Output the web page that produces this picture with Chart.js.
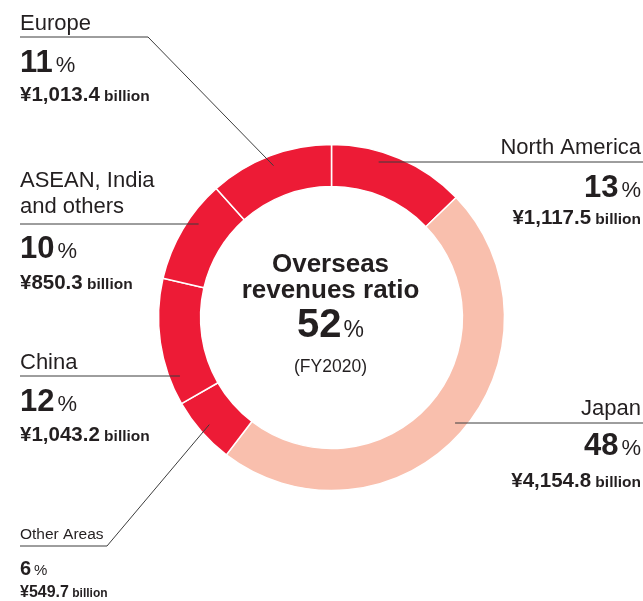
<!DOCTYPE html>
<html lang="en">
<head>
    <meta charset="UTF-8">
    <title>Overseas revenues ratio</title>
    <style>
        html, body { margin: 0; padding: 0; background: #fff; }
        .chart-container { position: relative; width: 643px; height: 601px; }
    </style>
</head>
<body>
    <div class="chart-container">
        <canvas class="revenue-chart"></canvas>
    </div>

    <script src="https://cdn.jsdelivr.net/npm/chart.js@4/dist/chart.umd.min.js"></script>
    <script>
        // Data (clockwise from 12 o'clock)
        const regions = ['North America', 'Japan', 'Other Areas', 'China', 'ASEAN, India and others', 'Europe'];
        const revenues = [1117.5, 4154.8, 549.7, 1043.2, 850.3, 1013.4];   // billion yen
        const shares = [13, 48, 6, 12, 10, 11];                               // %
        const fiscalYear = 'FY2020';

        const RED = '#ed1b36';
        const PINK = '#f9bfad';
        const TEXT = '#231f20';
        const FONT = '"Liberation Sans", Arial, sans-serif';

        // Label layout for each slice (same order as regions)
        const labelLayout = [
            { side: 'right', lines: ['North America'], labelY: 154, lineY: 162, pctY: 197, amtY: 224, size: 'big' },
            { side: 'right', lines: ['Japan'], labelY: 415, lineY: 423, pctY: 455, amtY: 487, size: 'big' },
            { side: 'left', lines: ['Other Areas'], labelY: 539, lineY: 546, pctY: 575, amtY: 597, size: 'small', elbowX: 107 },
            { side: 'left', lines: ['China'], labelY: 369, lineY: 376, pctY: 411, amtY: 441, size: 'big' },
            { side: 'left', lines: ['ASEAN, India', 'and others'], labelY: 213, lineY: 224, pctY: 258, amtY: 289, size: 'big' },
            { side: 'left', lines: ['Europe'], labelY: 30, lineY: 37, pctY: 72, amtY: 101, size: 'big', elbowX: 148 }
        ];

        const fonts = {
            big: { label: '22px ' + FONT, num: 'bold 31px ' + FONT, pct: '22px ' + FONT, amt: 'bold 20.5px ' + FONT, unit: 'bold 15.5px ' + FONT },
            small: { label: '15.5px ' + FONT, num: 'bold 20px ' + FONT, pct: '15px ' + FONT, amt: 'bold 16px ' + FONT, unit: 'bold 12px ' + FONT }
        };

        function drawParts(ctx, x, y, parts, align) {
            let total = 0;
            parts.forEach(p => { ctx.font = p.font; p.w = ctx.measureText(p.text).width; total += p.w + (p.gap || 0); });
            let cx = align === 'right' ? x - total : (align === 'center' ? x - total / 2 : x);
            parts.forEach(p => {
                ctx.font = p.font;
                ctx.textAlign = 'left';
                cx += (p.gap || 0);
                ctx.fillText(p.text, cx, y);
                cx += p.w;
            });
        }

        const annotations = {
            id: 'annotations',
            afterDraw(chart) {
                const ctx = chart.ctx;
                const arcs = chart.getDatasetMeta(0).data;
                const W = chart.width;
                ctx.save();
                ctx.fillStyle = TEXT;
                ctx.textBaseline = 'alphabetic';

                arcs.forEach((arc, i) => {
                    const p = arc.getProps(['x', 'y', 'startAngle', 'endAngle', 'innerRadius', 'outerRadius'], true);
                    const L = labelLayout[i];
                    const f = fonts[L.size];
                    const r = p.innerRadius + (p.outerRadius - p.innerRadius) * 0.75;
                    const right = L.side === 'right';
                    const tx = right ? W - 2 : 20;

                    // leader line
                    ctx.strokeStyle = '#3c3c3c';
                    ctx.lineWidth = 1;
                    ctx.beginPath();
                    if (L.elbowX !== undefined) {
                        const mid = (p.startAngle + p.endAngle) / 2;
                        ctx.moveTo(20, L.lineY);
                        ctx.lineTo(L.elbowX, L.lineY);
                        ctx.lineTo(p.x + Math.cos(mid) * r, p.y + Math.sin(mid) * r);
                    } else {
                        const dy = L.lineY - p.y;
                        const dx = Math.sqrt(Math.max(r * r - dy * dy, 0));
                        const ax = right ? p.x + dx : p.x - dx;
                        ctx.moveTo(ax, L.lineY);
                        ctx.lineTo(right ? W : 20, L.lineY);
                    }
                    ctx.stroke();

                    // texts
                    const align = right ? 'right' : 'left';
                    L.lines.forEach((t, k) => {
                        drawParts(ctx, tx, L.labelY - (L.lines.length - 1 - k) * 26, [{ text: t, font: f.label }], align);
                    });
                    drawParts(ctx, tx, L.pctY, [
                        { text: String(shares[i]), font: f.num },
                        { text: '%', font: f.pct, gap: 3 }
                    ], align);
                    drawParts(ctx, tx, L.amtY, [
                        { text: '¥' + revenues[i].toLocaleString('en-US', { minimumFractionDigits: 1 }), font: f.amt },
                        { text: ' billion', font: f.unit }
                    ], align);
                });

                // centre text
                const c = arcs[0].getProps(['x', 'y'], true);
                const overseas = 100 - shares[regions.indexOf('Japan')];
                const cx = c.x - 1;
                drawParts(ctx, cx, 272, [{ text: 'Overseas', font: 'bold 26px ' + FONT }], 'center');
                drawParts(ctx, cx, 298, [{ text: 'revenues ratio', font: 'bold 26px ' + FONT }], 'center');
                drawParts(ctx, cx, 337, [
                    { text: String(overseas), font: 'bold 40px ' + FONT },
                    { text: '%', font: '23px ' + FONT, gap: 2 }
                ], 'center');
                drawParts(ctx, cx, 372, [{ text: '(' + fiscalYear + ')', font: '17.5px ' + FONT }], 'center');
                ctx.restore();
            }
        };

        const ctx = document.querySelector('.revenue-chart').getContext('2d');
        const chart = new Chart(ctx, {
            type: 'doughnut',
            data: {
                labels: regions,
                datasets: [{
                    data: revenues,
                    backgroundColor: regions.map(r => r === 'Japan' ? PINK : RED),
                    borderColor: '#ffffff',
                    borderWidth: 1.5
                }]
            },
            options: {
                responsive: true,
                maintainAspectRatio: false,
                animation: false,
                radius: 173,
                cutout: '75.7%',
                layout: { padding: { left: 20, right: 0, top: 35, bottom: 1 } },
                plugins: {
                    legend: { display: false },
                    tooltip: { enabled: false }
                }
            },
            plugins: [annotations]
        });
    </script>
</body>
</html>
